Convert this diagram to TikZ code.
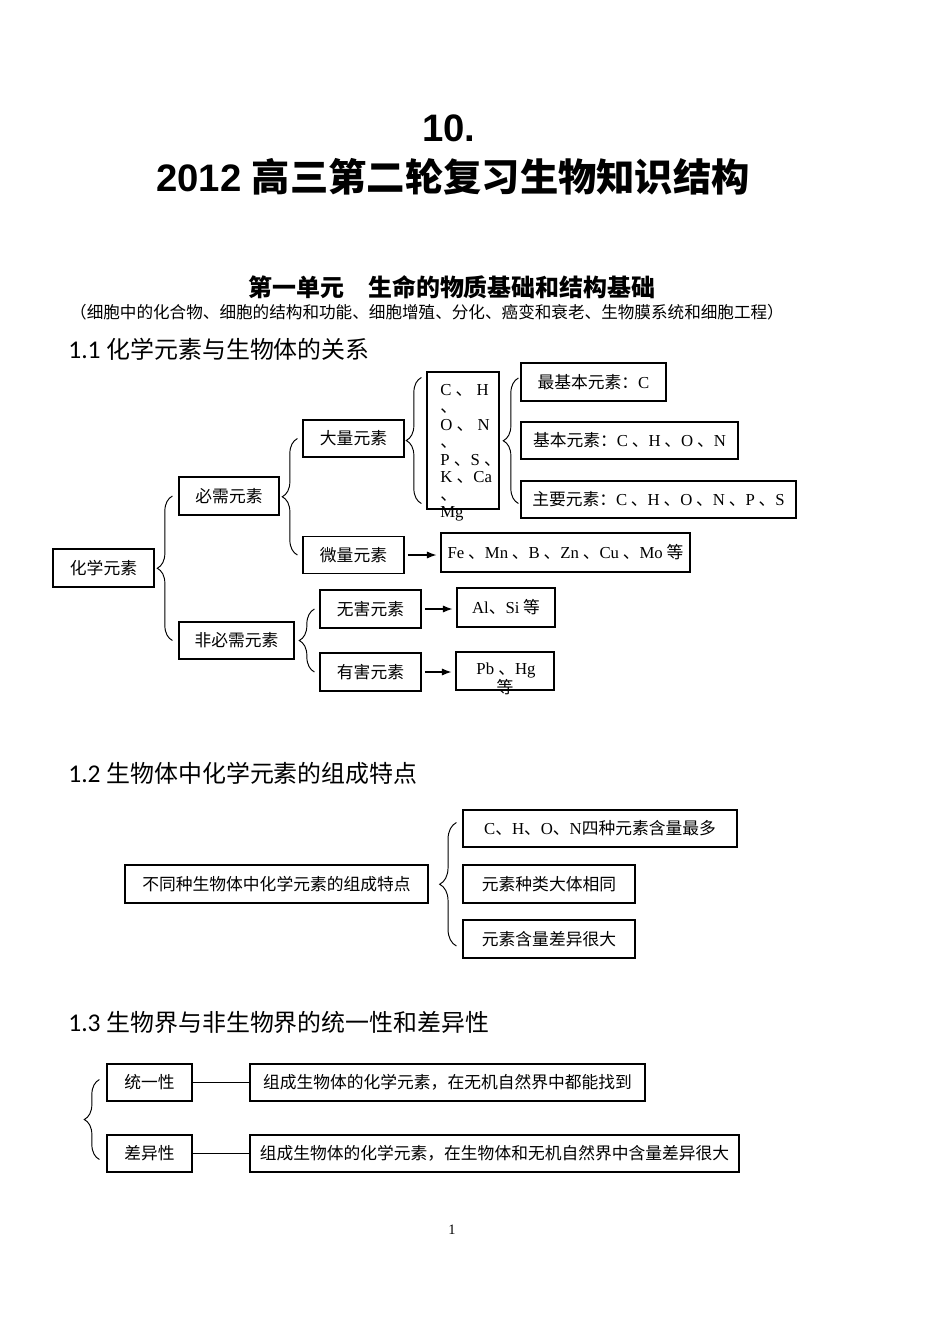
\documentclass[tikz,border=0pt]{standalone}
\usepackage{fontspec}
\setmainfont{Liberation Serif}
\newfontfamily\cj{Noto Sans CJK SC}
\newfontfamily\hd{Carlito}
\newfontfamily\ttl{Liberation Sans}
\usetikzlibrary{arrows.meta,decorations.pathreplacing}
\def\pxu{0.6266pt}
\newcommand\dun{{\cj 、}}
\newcommand\ltn[1]{{\rmfamily #1}}
\tikzset{
  box/.style={draw,line width=0.7pt,inner sep=0pt,font=\cj\fontsize{10.5}{12}\selectfont},
  bx/.style 2 args={minimum width=#1*\pxu,minimum height=#2*\pxu},
  brc/.style={decorate,decoration={brace,amplitude=#1},line width=0.6pt},
  brc/.default=9.5pt,
  arr/.style={-{Latex[length=6pt,width=4.5pt]},line width=0.7pt,shorten <=2pt,shorten >=2.5pt},
  txt/.style={inner sep=0pt,font=\fontsize{10.5}{12}\selectfont},
  head/.style={anchor=base west,inner sep=0pt,font=\fontsize{15}{18}\selectfont}
}

\begin{document}
\begin{tikzpicture}[x=\pxu,y=-\pxu]
  \useasboundingbox (0,0) rectangle (950,1344);

  % titles
  \node[anchor=base,inner sep=0pt,font=\ttl\bfseries\fontsize{24}{28}\selectfont] (num) at (449,141) {10.};
  \node[anchor=base,inner sep=0pt,font=\fontsize{24}{28}\selectfont] (title) at (453,191)
    {{\ttl\bfseries 2012 }{\cj\bfseries 高三第二轮复习生物知识结构}};
  \node[anchor=base,inner sep=0pt,font=\cj\bfseries\fontsize{15}{18}\selectfont] (unit) at (452,296)
    {第一单元　生命的物质基础和结构基础};
  \node[anchor=base,inner sep=0pt,font=\cj\fontsize{10.4}{12}\selectfont] (sub) at (427,318)
    {（细胞中的化合物、细胞的结构和功能、细胞增殖、分化、癌变和衰老、生物膜系统和细胞工程）};

  % 1.1
  \node[head] (h11) at (68,358) {{\hd\fontsize{16}{18}\selectfont 1.1 }{\cj 化学元素与生物体的关系}};
  \node[box,bx={101}{38}] (hx) at (103.5,568) {化学元素};
  \node[box,bx={100}{38}] (bx) at (229,496) {必需元素};
  \node[box,bx={115}{37}] (fbx) at (236.5,640.5) {非必需元素};
  \node[box,bx={101}{37}] (dl) at (353.5,438.5) {大量元素};
  \node[box,bx={101}{37}] (wl) at (353.5,555) {微量元素};
  \node[box,bx={101}{38}] (wh) at (370.5,609) {无害元素};
  \node[box,bx={101}{38}] (yh) at (370.5,672) {有害元素};
  \node[box,bx={72}{137}] (el) at (463,440.5) {};
  \foreach \t [count=\i] in {C \dun{} H, \dun, O \dun{} N, \dun, P \dun{}S \dun, K \dun{}Ca, \dun, Mg}
    \node[txt,anchor=base west] (el\i) at (440,377.5+17.5*\i) {\t};
  \node[box,bx={145}{38}] (zjb) at (593.5,382) {最基本元素：\ltn{C}};
  \node[box,bx={217}{37}] (jb) at (629.5,440.5) {基本元素：\ltn{C} 、\ltn{H} 、\ltn{O} 、\ltn{N}};
  \node[box,bx={275}{37}] (zy) at (658.5,499.5) {主要元素：\ltn{C} 、\ltn{H} 、\ltn{O} 、\ltn{N} 、\ltn{P} 、\ltn{S}};
  \node[box,bx={249}{39}] (fe) at (565.5,552.5) {\ltn{Fe} 、\ltn{Mn} 、\ltn{B} 、\ltn{Zn} 、\ltn{Cu} 、\ltn{Mo} 等};
  \node[box,bx={98}{39}] (al) at (506,607.5) {\ltn{Al}、\ltn{Si} 等};
  \node[box,bx={98}{38}] (pb) at (505,671) {};
  \node[txt] (pbt) at (506,670) {Pb \dun{}Hg};
  \node[txt,font=\cj\fontsize{10.5}{12}\selectfont] (pbd) at (505,687) {等};

  \draw[brc] ([shift={(-6,0)}]fbx.west) -- ([shift={(-6,0)}]bx.west);
  \draw[brc] ([shift={(-5,0)}]wl.west) -- ([shift={(-5,0)}]dl.west);
  \draw[brc] ([shift={(-5,0)}]yh.west) -- ([shift={(-5,0)}]wh.west);
  \draw[brc] ([shift={(-5,-6)}]el.south west) -- ([shift={(-5,6)}]el.north west);
  \draw[brc] ([shift={(-2,4)}]zy.west) -- ([shift={(-2,-4)}]zjb.west);
  \draw[arr] (wl.east) -- (wl.east -| fe.west);
  \draw[arr] (wh.east) -- (wh.east -| al.west);
  \draw[arr] (yh.east) -- (yh.east -| pb.west);

  % 1.2
  \node[head] (h12) at (68,782) {{\hd\fontsize{16}{18}\selectfont 1.2 }{\cj 生物体中化学元素的组成特点}};
  \node[box,bx={303}{38}] (tz) at (276.5,884) {不同种生物体中化学元素的组成特点};
  \node[box,bx={274}{37}] (c1) at (600,828.5) {\ltn{C}、\ltn{H}、\ltn{O}、\ltn{N}四种元素含量最多};
  \node[box,bx={172}{38}] (c2) at (549,884) {元素种类大体相同};
  \node[box,bx={172}{38}] (c3) at (549,939) {元素含量差异很大};
  \draw[brc=10.5pt] ([shift={(-6,7)}]c3.west) -- ([shift={(-6,-6)}]c1.west);

  % 1.3
  \node[head] (h13) at (68,1031) {{\hd\fontsize{16}{18}\selectfont 1.3 }{\cj 生物界与非生物界的统一性和差异性}};
  \node[box,bx={85}{37}] (ty) at (149.5,1082.5) {统一性};
  \node[box,bx={85}{37}] (cy) at (149.5,1153.5) {差异性};
  \node[box,bx={395}{37}] (tyd) at (447.5,1082.5) {组成生物体的化学元素，在无机自然界中都能找到};
  \node[box,bx={489}{37}] (cyd) at (494.5,1153.5) {组成生物体的化学元素，在生物体和无机自然界中含量差异很大};
  \draw[brc] ([shift={(-7,6)}]cy.west) -- ([shift={(-7,-3)}]ty.west);
  \draw[line width=0.7pt] (ty) -- (tyd);
  \draw[line width=0.7pt] (cy) -- (cyd);

  \node[anchor=base,inner sep=0pt,font=\fontsize{9}{11}\selectfont] (pg) at (452,1234) {1};
\end{tikzpicture}
\end{document}
